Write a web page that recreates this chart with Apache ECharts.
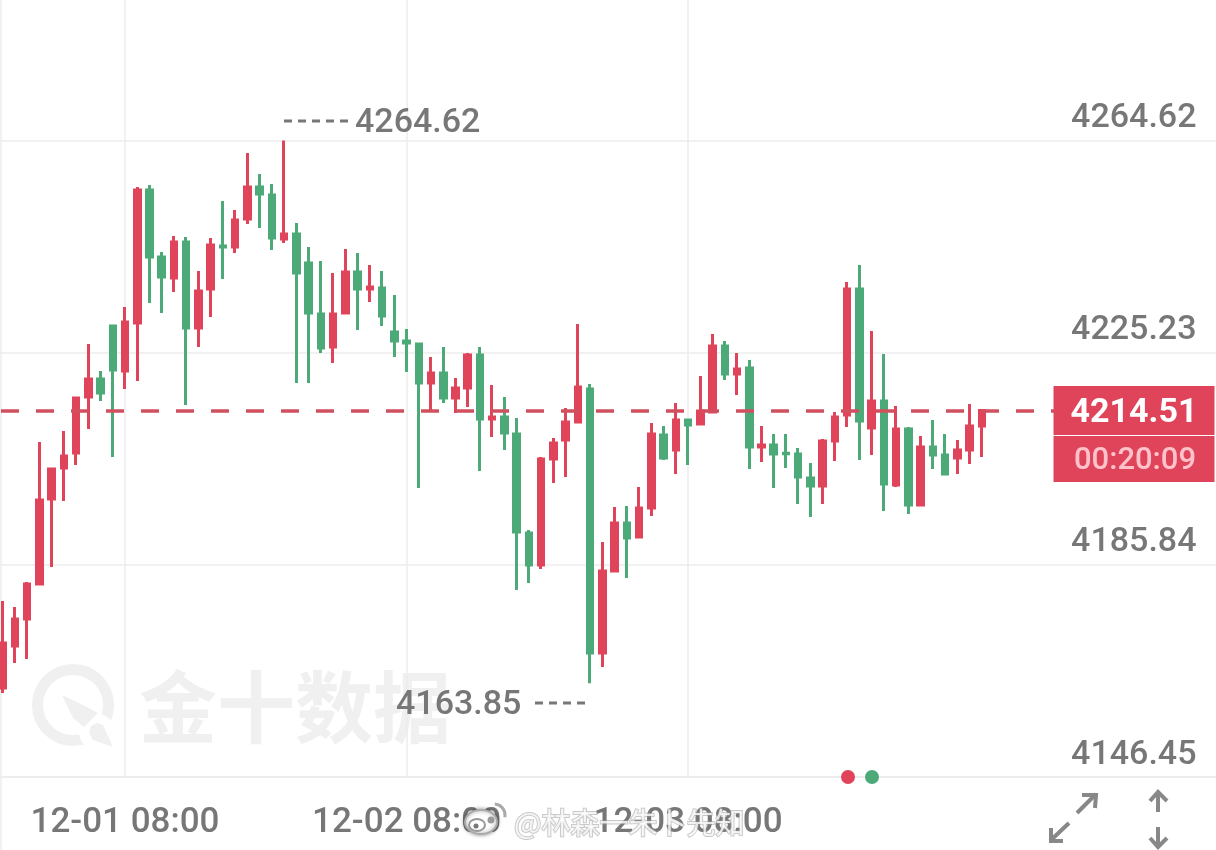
<!DOCTYPE html>
<html>
<head>
<meta charset="utf-8">
<title>XAU 1H</title>
<style>
html, body { margin: 0; padding: 0; background: #fff; }
#main { width: 1216px; height: 850px; }
</style>
<script src="https://cdn.jsdelivr.net/npm/echarts@6/dist/echarts.min.js"></script>
</head>
<body>
<div id="main"></div>
<script>
// hourly candles
var opens = [4162.97,4170.77,4175.78,4182.28,4198.06,4203.82,4206.60,4217.00,4220.34,4230.18,
  4221.83,4230.74,4255.43,4242.99,4239.09,4245.78,4229.81,4237.05,4245.04,4244.85,
  4250.05,4255.99,4254.50,4246.33,4247.26,4241.88,4232.41,4226.28,4232.60,4240.21,
  4237.05,4237.24,4229.07,4227.40,4226.84,4219.60,4221.46,4216.81,4218.67,4224.80,
  4212.91,4213.29,4210.13,4191.75,4185.81,4205.49,4209.02,4212.36,4218.48,4169.47,
  4184.69,4193.61,4191.01,4196.39,4209.94,4207.16,4212.73,4211.99,4214.21,4226.47,
  4221.27,4222.38,4207.72,4208.09,4206.55,4206.42,4201.96,4200.47,4208.83,4213.66,
  4237.05,4211.24,4216.26,4200.66,4211.06,4196.95,4207.72,4206.23,4205.67,4207.16,
  4211.62];
var closes = [4171.32,4175.78,4182.28,4197.88,4203.63,4206.04,4216.81,4220.34,4217.74,4222.01,
  4230.93,4255.43,4242.99,4239.28,4245.78,4229.81,4236.68,4245.22,4244.85,4249.86,
  4255.99,4254.69,4246.52,4247.26,4240.02,4232.60,4226.10,4232.41,4240.21,4237.05,
  4237.42,4232.04,4227.40,4227.03,4219.60,4221.46,4216.81,4218.67,4224.80,4212.91,
  4213.29,4210.31,4191.93,4185.81,4205.49,4208.46,4212.36,4218.86,4169.47,4184.69,
  4193.61,4190.82,4196.39,4210.13,4205.67,4212.73,4211.80,4214.40,4226.47,4221.27,
  4222.20,4207.72,4208.09,4206.42,4206.45,4202.15,4200.47,4208.83,4213.29,4237.05,
  4212.54,4216.26,4200.85,4211.06,4196.95,4207.72,4206.23,4202.70,4207.16,4211.62,
  4214.51];
var lows = [4162.04,4167.61,4168.35,4182.28,4185.44,4197.69,4204.37,4211.06,4216.26,4205.86,
  4218.48,4219.97,4234.45,4232.60,4236.50,4215.51,4226.28,4231.85,4238.91,4243.74,
  4249.12,4248.38,4244.29,4245.59,4219.60,4219.60,4225.17,4223.31,4232.60,4229.44,
  4234.64,4230.18,4224.43,4221.64,4200.10,4214.59,4215.89,4214.03,4215.14,4203.26,
  4209.57,4207.16,4181.16,4182.46,4185.06,4201.03,4202.15,4212.36,4163.85,4166.87,
  4184.69,4183.39,4191.01,4194.90,4205.30,4202.70,4204.37,4211.80,4214.21,4220.16,
  4217.37,4203.63,4204.93,4200.10,4203.82,4197.13,4194.72,4197.13,4205.12,4211.43,
  4205.30,4206.23,4195.83,4200.29,4195.28,4196.95,4203.63,4202.70,4202.70,4204.56,
  4205.86];
var highs = [4179.12,4178.01,4182.65,4208.64,4203.82,4210.69,4217.00,4226.84,4221.83,4230.37,
  4233.71,4255.99,4256.36,4243.92,4246.89,4246.71,4240.39,4246.52,4253.39,4251.72,
  4262.30,4258.40,4256.55,4264.62,4249.31,4244.85,4242.25,4240.02,4244.48,4243.74,
  4241.51,4240.39,4235.94,4229.63,4227.03,4224.43,4226.28,4220.53,4225.17,4226.28,
  4219.23,4217.00,4213.10,4192.31,4205.86,4209.39,4214.96,4230.55,4219.41,4190.08,
  4196.58,4196.76,4200.29,4212.17,4211.62,4215.89,4212.73,4220.90,4228.70,4227.40,
  4225.17,4223.87,4211.62,4210.13,4210.13,4207.53,4204.75,4209.20,4214.21,4238.35,
  4241.51,4229.25,4224.98,4215.33,4211.43,4209.76,4212.73,4210.13,4209.02,4215.70,
  4214.59];

var yTicks = [4146.45, 4185.84, 4225.23, 4264.62];
var tickIndex = [10, 33, 56];
var tickLabels = ['12-01 08:00', '12-02 08:00', '12-03 08:00'];
var lastPrice = 4214.51;
var countdown = '00:20:09';
var highLabel = '4264.62';
var lowLabel = '4163.85';

var RED = '#e0445a', GREEN = '#4caa78', TEXT = '#777777', GRID = '#ececec', MARK = '#f0f0f0';
var NUM_FONT = 'Roboto, sans-serif';

// the axis runs on past the last candle so the grid reaches the right edge
var categories = [];
for (var i = 0; i < 100; i++) {
  var t = tickIndex.indexOf(i);
  categories.push(t >= 0 ? tickLabels[t] : String(i));
}
var candles = closes.map(function (c, i) {
  return [opens[i], c, lows[i], highs[i]];
});
function showTick(i) {
  return tickIndex.indexOf(i) >= 0;
}
function arrow(points) {
  return {
    type: 'polyline', z: 5,
    shape: { points: points },
    style: { fill: null, stroke: '#888', lineWidth: 4 }
  };
}

var chart = echarts.init(document.getElementById('main'));
chart.setOption({
  animation: false,
  grid: { left: -3.5, top: 0, width: 1224, height: 777, outerBoundsMode: 'none' },
  xAxis: {
    type: 'category',
    data: categories,
    axisLine: { lineStyle: { color: GRID, width: 1.5 } },
    axisTick: { show: false },
    axisLabel: {
      interval: function (i) { return showTick(i); },
      hideOverlap: false,
      color: TEXT,
      fontFamily: NUM_FONT,
      fontWeight: 500,
      fontSize: 35,
      margin: 29
    },
    splitLine: {
      show: true,
      alignWithLabel: true,
      interval: function (i) { return showTick(i); },
      lineStyle: { color: GRID, width: 1.5 }
    }
  },
  yAxis: {
    type: 'value',
    position: 'right',
    min: 4146.45,
    max: 4290.71,
    scale: true,
    axisLine: { show: false },
    axisTick: { show: false, customValues: yTicks },
    axisLabel: {
      inside: true,
      customValues: yTicks,
      formatter: function (v) { return v.toFixed(2); },
      color: TEXT,
      fontFamily: NUM_FONT,
      fontWeight: 500,
      fontSize: 34,
      margin: 24,
      verticalAlign: 'bottom',
      padding: [0, 0, 5, 0]
    },
    splitLine: { show: true, lineStyle: { color: GRID, width: 1.5 } }
  },
  series: [{
    type: 'candlestick',
    data: candles,
    barWidth: 6,
    itemStyle: {
      color: RED, color0: GREEN,
      borderColor: RED, borderColor0: GREEN,
      borderWidth: 3
    },
    markLine: {
      silent: true,
      symbol: 'none',
      label: { show: false },
      lineStyle: { color: '#d0505f', type: [18, 17], dashOffset: 30.5, width: 3.5 },
      data: [{ yAxis: lastPrice }]
    }
  }],
  graphic: [
    // left edge of the plot
    { type: 'line', z: 0, shape: { x1: 1, y1: 0, x2: 1, y2: 850 }, style: { stroke: GRID, lineWidth: 1.5 } },

    // 金十数据 watermark
    { type: 'circle', z: 0, shape: { cx: 73, cy: 705, r: 35.5 }, style: { fill: null, stroke: MARK, lineWidth: 11 } },
    { type: 'circle', z: 0, shape: { cx: 97, cy: 732, r: 18 }, style: { fill: '#fff' } },
    { type: 'polygon', z: 0, shape: { points: [[62, 695], [83, 705], [98, 713], [84, 727], [73, 718]] }, style: { fill: MARK } },
    { type: 'polygon', z: 0, shape: { points: [[97, 723], [103, 725], [113, 747], [93, 740], [89, 733], [91, 726]] }, style: { fill: MARK } },
    { type: 'text', z: 0, x: 295, y: 707, style: {
      text: '金十数据', fill: MARK, align: 'center', verticalAlign: 'middle',
      font: 'bold 78px "Noto Sans CJK SC"'
    } },

    // high and low annotations
    { type: 'line', z: 5, shape: { x1: 284, y1: 121, x2: 349, y2: 121 }, style: { stroke: TEXT, lineWidth: 3, lineDash: [8, 6] } },
    { type: 'text', z: 5, x: 355, y: 123, style: {
      text: highLabel, fill: TEXT, align: 'left', verticalAlign: 'middle', font: '500 34px ' + NUM_FONT
    } },
    { type: 'line', z: 5, shape: { x1: 535, y1: 703, x2: 585, y2: 703 }, style: { stroke: TEXT, lineWidth: 3, lineDash: [8, 6] } },
    { type: 'text', z: 5, x: 396, y: 705, style: {
      text: lowLabel, fill: TEXT, align: 'left', verticalAlign: 'middle', font: '500 34px ' + NUM_FONT
    } },

    // last price and countdown boxes
    { type: 'rect', z: 20, shape: { x: 1053.5, y: 386, width: 161, height: 49 }, style: { fill: RED } },
    { type: 'rect', z: 20, shape: { x: 1053.5, y: 436, width: 161, height: 46 }, style: { fill: RED } },
    { type: 'text', z: 21, x: 1134, y: 413, style: {
      text: lastPrice.toFixed(2), fill: '#fff', align: 'center', verticalAlign: 'middle', font: 'bold 34px ' + NUM_FONT
    } },
    { type: 'text', z: 21, x: 1135, y: 461, style: {
      text: countdown, fill: '#ffc2cb', align: 'center', verticalAlign: 'middle', font: '500 31px ' + NUM_FONT
    } },

    // legend dots
    { type: 'circle', z: 10, shape: { cx: 848, cy: 777, r: 7 }, style: { fill: RED } },
    { type: 'circle', z: 10, shape: { cx: 872, cy: 777, r: 7 }, style: { fill: GREEN } },

    // toolbar arrows
    arrow([[1077, 813], [1096, 794]]),
    arrow([[1082, 795], [1096, 795], [1095, 808]]),
    arrow([[1069, 823], [1050, 841]]),
    arrow([[1051, 828], [1051, 841], [1063, 841]]),
    arrow([[1158, 792], [1158, 812]]),
    arrow([[1150, 801], [1158, 792], [1167, 801]]),
    arrow([[1158, 827], [1158, 847]]),
    arrow([[1150, 838], [1158, 847], [1167, 838]]),

    // weibo stamp over the axis labels
    { type: 'ellipse', z: 30, shape: { cx: 481, cy: 822, rx: 16, ry: 12 }, style: {
      fill: '#fff', stroke: '#aaa', lineWidth: 2, shadowBlur: 4, shadowColor: 'rgba(0,0,0,0.4)'
    } },
    { type: 'ellipse', z: 31, shape: { cx: 477, cy: 825, rx: 8, ry: 6 }, style: { fill: null, stroke: '#999', lineWidth: 2 } },
    { type: 'circle', z: 31, shape: { cx: 476, cy: 826, r: 2.5 }, style: { fill: '#777' } },
    { type: 'circle', z: 31, shape: { cx: 491, cy: 820, r: 3.5 }, style: { fill: '#999' } },
    { type: 'arc', z: 31, shape: { cx: 494, cy: 815, r: 11, startAngle: -1.5, endAngle: 0.2 }, style: { fill: null, stroke: '#aaa', lineWidth: 3 } },
    { type: 'text', z: 30, x: 514, y: 823, style: {
      text: '@林森一朱卜先知', fill: 'rgba(255,255,255,0.8)', stroke: 'rgba(150,150,150,0.5)', lineWidth: 2, strokeFirst: true,
      align: 'left', verticalAlign: 'middle',
      font: '29px "Noto Sans CJK SC"', shadowBlur: 5, shadowColor: 'rgba(0,0,0,0.4)'
    } }
  ]
});
</script>
</body>
</html>
